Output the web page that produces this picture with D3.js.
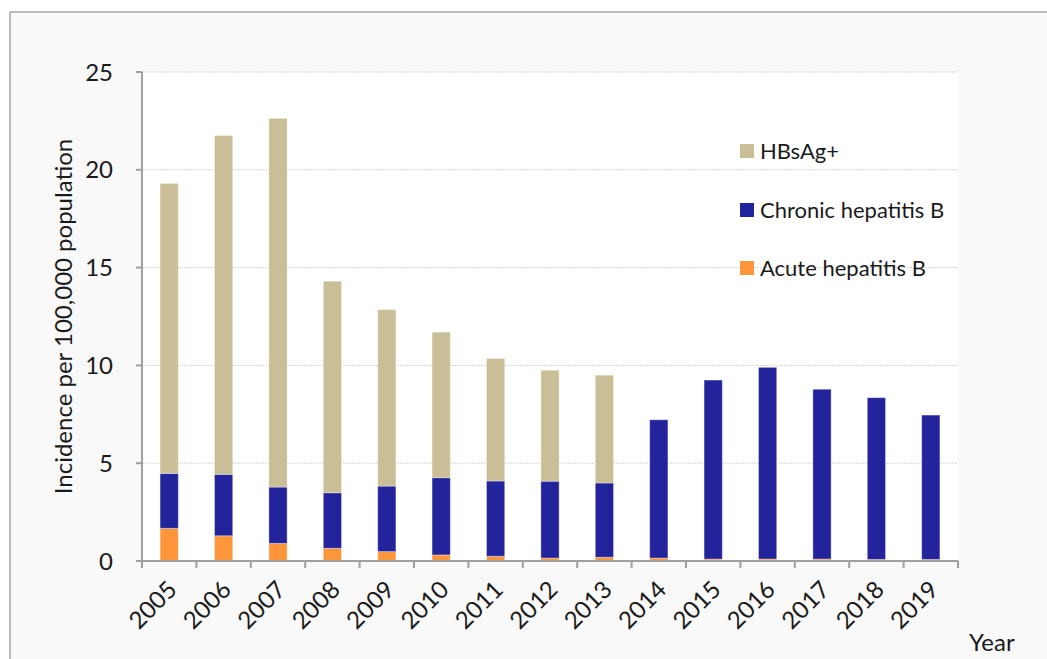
<!DOCTYPE html>
<html>
<head>
<meta charset="utf-8">
<script src="https://cdn.jsdelivr.net/npm/d3@7"></script>
<style>
body{margin:0;background:#fff;}
svg{display:block;font-family:Lato,"Open Sans",sans-serif;}
</style>
</head>
<body>
<div id="chart"></div>
<script>
// values
let years=['2005','2006','2007','2008','2009','2010','2011','2012','2013','2014','2015','2016','2017','2018','2019']
let acute=[1.67,1.29,0.90,0.65,0.48,0.31,0.24,0.15,0.19,0.15,0.10,0.10,0.10,0.08,0.08]
let chronic=[2.81,3.14,2.88,2.84,3.35,3.95,3.85,3.93,3.80,7.07,9.15,9.80,8.68,8.27,7.38]
let hbsag=[14.82,17.32,18.85,10.81,9.02,7.44,6.26,5.67,5.51,0,0,0,0,0,0]
let yticks=[0,5,10,15,20,25]
let seriesNames=['Acute hepatitis B','Chronic hepatitis B','HBsAg+']
let seriesColors=['#fd963b','#23239b','#c9be96']

let W=1047,H=659
let svg=d3.select('#chart').append('svg').attr('width',W).attr('height',H)

// outer frame
svg.append('rect').attr('x',10).attr('y',12).attr('width',W+20).attr('height',H+20)
	.attr('fill','#f9f9f9').attr('stroke','#a6a6a6').attr('stroke-width',1.5)

let pLeft=142,pRight=958,pTop=72,pBottom=561
let x=d3.scaleBand().domain(years).range([pLeft,pRight]).paddingInner(0.665).paddingOuter(0.3325)
let xstep=d3.scaleBand().domain(years).range([pLeft,pRight])
let y=d3.scaleLinear().domain([0,25]).range([pBottom,pTop])

svg.append('rect').attr('x',pLeft).attr('y',pTop).attr('width',pRight-pLeft).attr('height',pBottom-pTop).attr('fill','#fff')

// grid
svg.append('g').selectAll('line').data(yticks.filter(d=>d>0)).join('line')
	.attr('x1',pLeft).attr('x2',pRight).attr('y1',d=>y(d)).attr('y2',d=>y(d))
	.attr('stroke','#d4d4d4').attr('stroke-width',1).attr('stroke-dasharray','2,1')

// stacked bars
let rows=years.map((yr,i)=>({year:yr,a:acute[i],c:chronic[i],h:hbsag[i]}))
let stack=d3.stack().keys(['a','c','h'])(rows)
svg.append('g').selectAll('g').data(stack).join('g')
	.attr('fill',(d,i)=>seriesColors[i])
	.selectAll('rect').data(d=>d.filter(p=>p[1]-p[0]>0)).join('rect')
	.attr('x',d=>x(d.data.year))
	.attr('width',x.bandwidth())
	.attr('y',d=>y(d[1]))
	.attr('height',d=>y(d[0])-y(d[1]))
	.attr('stroke','#ffffff').attr('stroke-opacity',0.35).attr('stroke-width',1)

// y axis
let yaxis=svg.append('g')
yaxis.append('line').attr('x1',pLeft).attr('x2',pLeft).attr('y1',pTop).attr('y2',pBottom)
	.attr('stroke','#a0a0a0').attr('stroke-width',2)
yaxis.selectAll('line.t').data(yticks).join('line').attr('class','t')
	.attr('x1',pLeft-6).attr('x2',pLeft).attr('y1',d=>y(d)).attr('y2',d=>y(d))
	.attr('stroke','#a0a0a0').attr('stroke-width',2)
yaxis.selectAll('text').data(yticks).join('text')
	.attr('x',113).attr('y',d=>y(d)).attr('dy','0.36em')
	.attr('text-anchor','end').attr('font-size',24).attr('fill','#1a1a1a')
	.text(d=>d)

// x axis
let xaxis=svg.append('g')
xaxis.append('line').attr('x1',pLeft).attr('x2',pRight).attr('y1',pBottom).attr('y2',pBottom)
	.attr('stroke','#a0a0a0').attr('stroke-width',2)
let bounds=years.map(d=>xstep(d)).concat([pRight])
xaxis.selectAll('line.t').data(bounds).join('line').attr('class','t')
	.attr('x1',d=>d).attr('x2',d=>d).attr('y1',pBottom).attr('y2',pBottom+7)
	.attr('stroke','#a0a0a0').attr('stroke-width',2)
xaxis.selectAll('text').data(years).join('text')
	.attr('transform',d=>'translate('+(x(d)+x.bandwidth()/2+3)+','+(pBottom+24)+') rotate(-45)')
	.attr('text-anchor','end').attr('dy','0.36em')
	.attr('font-size',24).attr('fill','#1a1a1a')
	.text(d=>d)

svg.append('text').attr('x',969).attr('y',651).attr('font-size',24).attr('fill','#1a1a1a').text('Year')
svg.append('text').attr('transform','translate(72,'+((pTop+pBottom)/2)+') rotate(-90)')
	.attr('text-anchor','middle').attr('font-size',24).attr('fill','#1a1a1a')
	.text('Incidence per 100,000 population')

// legend
let legendRows=[{n:'HBsAg+',c:seriesColors[2],y:151},{n:'Chronic hepatitis B',c:seriesColors[1],y:210},{n:'Acute hepatitis B',c:seriesColors[0],y:268}]
let lg=svg.append('g').selectAll('g').data(legendRows).join('g')
	.attr('transform',d=>'translate(740,'+d.y+')')
lg.append('rect').attr('x',0).attr('y',-7).attr('width',14).attr('height',14).attr('fill',d=>d.c)
lg.append('text').attr('x',20).attr('dy','0.36em').attr('font-size',22).attr('fill','#1a1a1a').text(d=>d.n)
</script>
</body>
</html>
